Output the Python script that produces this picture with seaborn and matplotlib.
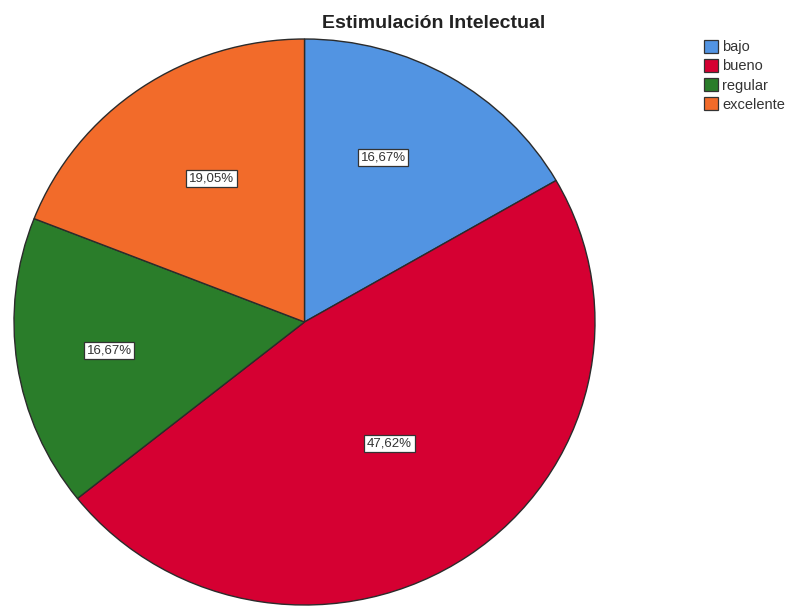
import numpy as np
import matplotlib
matplotlib.use("Agg")
import matplotlib.pyplot as plt
import seaborn as sns
from matplotlib.patches import Patch

categories = ["bajo", "bueno", "regular", "excelente"]
percentages = [16.67, 47.62, 16.67, 19.05]
colors = ["#5294E2", "#D50032", "#2A7D2A", "#F26B2A"]
label_radius = [0.64, 0.52, 0.68, 0.60]
label_angle_shift = [5, 0, 0, -2]
title = "Estimulación Intelectual"

sns.set_theme(style="white")
plt.rcParams["font.family"] = ["Liberation Sans", "DejaVu Sans"]
palette = sns.color_palette(colors)

fig = plt.figure(figsize=(7.97, 6.07), dpi=100)
ax = fig.add_axes([14 / 797, 2 / 607, 581 / 797, 566 / 607])

wedges, _ = ax.pie(
    percentages,
    colors=palette,
    startangle=90,
    counterclock=False,
    wedgeprops=dict(edgecolor="#2b2b2b", linewidth=1.0),
)
ax.set_aspect("auto")
ax.set_xlim(-1, 1)
ax.set_ylim(-1, 1)
ax.axis("off")

for w, pct, r, shift in zip(wedges, percentages, label_radius, label_angle_shift):
    ang = np.deg2rad((w.theta1 + w.theta2) / 2 + shift)
    ax.text(
        r * np.cos(ang), r * np.sin(ang),
        f"{pct:.2f}%".replace(".", ","),
        ha="center", va="center", fontsize=9.5, color="#333333",
        bbox=dict(boxstyle="square,pad=0.2", facecolor="white",
                  edgecolor="#333333", linewidth=0.9),
    )

fig.text(434 / 797, 1 - 23 / 607, title, ha="center", va="center",
         fontsize=14, fontweight="bold", color="#222222")

handles = [Patch(facecolor=c, edgecolor="#333333", linewidth=0.9) for c in palette]
fig.legend(
    handles, categories,
    loc="upper left", bbox_to_anchor=(704 / 797, 1 - 40 / 607),
    frameon=False, fontsize=10.5, handlelength=0.95, handleheight=0.95,
    handletextpad=0.3, labelspacing=0.33, borderpad=0, borderaxespad=0,
    labelcolor="#333333",
)

fig.savefig("out.png", dpi=100, facecolor="white")
